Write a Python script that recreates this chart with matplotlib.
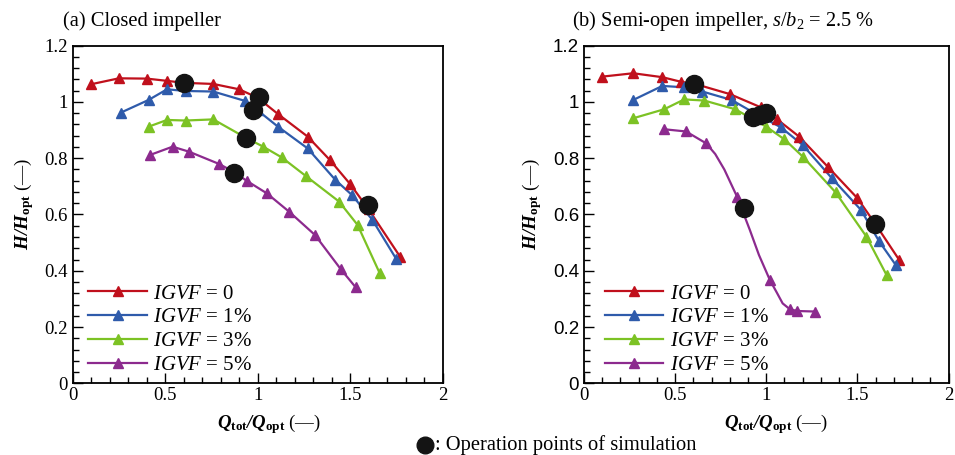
import matplotlib
matplotlib.use("Agg")
import matplotlib.pyplot as plt
from matplotlib.lines import Line2D
from matplotlib.ticker import MultipleLocator, FuncFormatter

plt.rcParams['font.family'] = ['Liberation Serif', 'DejaVu Serif']
plt.rcParams['mathtext.fontset'] = 'custom'
plt.rcParams['mathtext.rm'] = 'Liberation Serif'
plt.rcParams['mathtext.it'] = 'Liberation Serif:italic'
plt.rcParams['mathtext.bf'] = 'Liberation Serif:italic:bold'
plt.rcParams['mathtext.sf'] = 'Liberation Serif:bold'

# -----------------------
# Data
# -----------------------
labels = ["0", "1%", "3%", "5%"]
colors = ["#c0101c", "#2f5bab", "#7cc224", "#8c2a8e"]

# (a) closed impeller
q_a0 = [0.10, 0.25, 0.40, 0.51, 0.60, 0.76, 0.90, 1.00, 1.11, 1.27, 1.39, 1.50, 1.60, 1.77]
h_a0 = [1.063, 1.084, 1.083, 1.075, 1.068, 1.064, 1.045, 1.015, 0.957, 0.877, 0.794, 0.708, 0.618, 0.450]
q_a1 = [0.26, 0.41, 0.51, 0.61, 0.76, 0.93, 1.00, 1.11, 1.27, 1.42, 1.51, 1.62, 1.75]
h_a1 = [0.962, 1.007, 1.045, 1.039, 1.037, 1.004, 0.970, 0.912, 0.835, 0.723, 0.669, 0.581, 0.441]
q_a3 = [0.41, 0.51, 0.61, 0.76, 0.93, 1.03, 1.13, 1.26, 1.44, 1.54, 1.66]
h_a3 = [0.912, 0.936, 0.934, 0.938, 0.875, 0.841, 0.803, 0.737, 0.646, 0.563, 0.391]
q_a5 = [0.42, 0.54, 0.63, 0.79, 0.87, 0.94, 1.05, 1.17, 1.31, 1.45, 1.53]
h_a5 = [0.812, 0.841, 0.823, 0.780, 0.752, 0.720, 0.675, 0.610, 0.527, 0.405, 0.341]
q_sim_a = [0.600, 1.005, 0.976, 0.935, 0.872, 1.598]
h_sim_a = [1.066, 1.019, 0.972, 0.871, 0.749, 0.634]

# (b) semi-open impeller
q_b0 = [0.10, 0.27, 0.43, 0.53, 0.62, 0.80, 0.97, 1.06, 1.18, 1.34, 1.50, 1.60, 1.73]
h_b0 = [1.090, 1.102, 1.088, 1.072, 1.062, 1.028, 0.981, 0.938, 0.877, 0.768, 0.658, 0.565, 0.438]
q_b1 = [0.27, 0.43, 0.55, 0.65, 0.81, 0.95, 1.08, 1.20, 1.36, 1.52, 1.62, 1.71]
h_b1 = [1.007, 1.057, 1.052, 1.037, 1.007, 0.955, 0.910, 0.847, 0.729, 0.616, 0.504, 0.421]
q_b3 = [0.27, 0.44, 0.55, 0.66, 0.83, 1.00, 1.10, 1.20, 1.38, 1.55, 1.66]
h_b3 = [0.942, 0.974, 1.009, 1.005, 0.974, 0.912, 0.867, 0.806, 0.679, 0.521, 0.385]
q_b5 = [0.44, 0.56, 0.67, 0.84, 1.02, 1.13, 1.17, 1.27]
h_b5 = [0.903, 0.895, 0.853, 0.663, 0.367, 0.263, 0.257, 0.255]
# extra points read along the smooth IGVF=5% curve
q_b5_line = [0.44, 0.56, 0.67, 0.72, 0.77, 0.84, 0.91, 0.96, 1.02, 1.06, 1.09, 1.13, 1.17, 1.27]
h_b5_line = [0.903, 0.895, 0.853, 0.815, 0.760, 0.663, 0.545, 0.456, 0.367, 0.320, 0.284, 0.263, 0.257, 0.255]
q_sim_b = [0.605, 0.930, 0.965, 1.000, 0.876, 1.599]
h_sim_b = [1.064, 0.945, 0.955, 0.962, 0.622, 0.566]

series_a = [(q_a0, h_a0, q_a0, h_a0), (q_a1, h_a1, q_a1, h_a1),
            (q_a3, h_a3, q_a3, h_a3), (q_a5, h_a5, q_a5, h_a5)]
series_b = [(q_b0, h_b0, q_b0, h_b0), (q_b1, h_b1, q_b1, h_b1),
            (q_b3, h_b3, q_b3, h_b3), (q_b5_line, h_b5_line, q_b5, h_b5)]

# -----------------------
# Figure
# -----------------------
fig = plt.figure(figsize=(9.55, 4.55), dpi=100)
ax_a = fig.add_axes([0.0761, 0.1576, 0.3874, 0.742])
ax_b = fig.add_axes([0.6115, 0.1576, 0.3817, 0.742])


def draw_panel(ax, series, q_sim, h_sim, legend_x, ytick_family):
    for (ql, hl, qm, hm), c in zip(series, colors):
        ax.plot(ql, hl, color=c, lw=1.6, zorder=2)
        ax.plot(qm, hm, ls="none", marker="^", ms=6.5, color=c, zorder=3)
    ax.plot(q_sim, h_sim, ls="none", marker="o", ms=13, color="#141414", zorder=4)

    handles = [Line2D([], [], color=c, lw=1.6, marker="^", ms=6.5) for c in colors]
    ax.legend(handles, [r"$\mathit{IGVF}$ = " + l for l in labels],
              loc="lower left", bbox_to_anchor=(legend_x, 0.0), frameon=False,
              fontsize=15, handlelength=2.8, handletextpad=0.3,
              labelspacing=0.2, borderaxespad=0.0, numpoints=1)

    ax.set_xlim(0, 2)
    ax.set_ylim(0, 1.2)
    ax.xaxis.set_major_locator(MultipleLocator(0.5))
    ax.xaxis.set_minor_locator(MultipleLocator(0.1))
    ax.yaxis.set_major_locator(MultipleLocator(0.2))
    ax.yaxis.set_minor_locator(MultipleLocator(0.04))
    ax.tick_params(which="both", direction="in", top=False, right=False, width=1.0)
    ax.tick_params(which="major", length=7, labelsize=13.5)
    ax.tick_params(which="minor", length=4)
    ax.tick_params(axis="x", pad=3)
    for s in ax.spines.values():
        s.set_linewidth(1.3)

    ax.xaxis.set_major_formatter(FuncFormatter(lambda v, p: f"{v:g}"))
    ax.yaxis.set_major_formatter(FuncFormatter(lambda v, p: f"{v:g}"))
    for t in ax.get_yticklabels():
        t.set_family(ytick_family)

    ax.set_xlabel(r"$\mathbf{Q}_{\mathsf{tot}}\mathbf{/Q}_{\mathsf{opt}}$ (—)", fontsize=13.5)
    ax.set_ylabel(r"$\mathbf{H/H}_{\mathsf{opt}}$ (—)", fontsize=13.8)


draw_panel(ax_a, series_a, q_sim_a, h_sim_a, 0.02, "Liberation Serif")
draw_panel(ax_b, series_b, q_sim_b, h_sim_b, 0.035, "Liberation Sans")

ax_a.xaxis.set_label_coords(0.53, -0.085)
ax_b.xaxis.set_label_coords(0.528, -0.085)
ax_a.yaxis.set_label_coords(-0.10, 0.53)
ax_b.yaxis.set_label_coords(-0.11, 0.53)

fig.text(63 / 955, 1 - 26 / 455, "(a) Closed impeller", fontsize=14.8, va="baseline")
fig.text(572 / 955, 1 - 26 / 455,
         r"(b) Semi-open impeller, $\mathit{s/b}_{2}$ = 2.5 %", fontsize=14.7, va="baseline")

# note for simulation points
fig.add_artist(Line2D([425 / 955], [1 - 445 / 455], transform=fig.transFigure,
                      marker="o", ms=12, color="#141414", ls="none"))
fig.text(435 / 955, 1 - 450 / 455, ": Operation points of simulation",
         fontsize=14.8, va="baseline")

plt.savefig("out.png", dpi=100)
plt.close()
